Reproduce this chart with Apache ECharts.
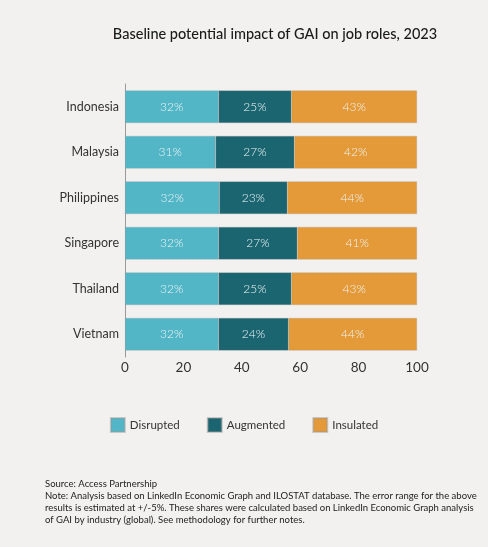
<!DOCTYPE HTML>
<html lang="en">
<head>
<meta charset="utf-8">
<title>Baseline potential impact of GAI on job roles, 2023</title>
<script src="https://cdn.jsdelivr.net/npm/echarts@6/dist/echarts.min.js"></script>
<style>
  html, body { margin: 0; padding: 0; background: #f2f1ef; }
  #chart { width: 488px; height: 547px; }
</style>
</head>
<body>
<div id="chart"></div>
<script>
// data (segment lengths; labels show them rounded)
const countries = ["Indonesia", "Malaysia", "Philippines", "Singapore", "Thailand", "Vietnam"];
const disrupted = [32, 31, 32.3, 32, 32, 32];
const augmented = [25, 27, 23.3, 27, 25, 24];
const insulated = [43, 42, 44.4, 41, 43, 44];
const xTicks = [0, 20, 40, 60, 80, 100];

const FONT = "Lato";
const notes = [
  "Source: Access Partnership",
  "Note: Analysis based on LinkedIn Economic Graph and ILOSTAT database. The error range for the above",
  "results is estimated at +/-5%. These shares were calculated based on LinkedIn Economic Graph analysis",
  "of GAI by industry (global). See methodology for further notes."
];

function barSeries(name, values, color) {
  return {
    name: name,
    type: 'bar',
    stack: 'total',
    barWidth: '72%',
    data: values,
    itemStyle: { color: color, borderColor: 'rgba(150,150,150,0.45)', borderWidth: 0.6 },
    label: {
      show: true,
      position: 'inside',
      formatter: function (p) { return Math.round(p.value) + '%'; },
      color: '#eef4f5',
      fontFamily: FONT,
      fontWeight: 300,
      fontSize: 12
    },
    emphasis: { disabled: true }
  };
}

var chart = echarts.init(document.getElementById('chart'));
chart.setOption({
  backgroundColor: '#f2f1ef',
  animation: false,
  title: {
    text: 'Baseline potential impact of GAI on job roles, 2023',
    left: 270,
    textAlign: 'center',
    top: 22,
    textStyle: { fontFamily: FONT, fontSize: 14.5, fontWeight: 500, color: '#1a1a1a' }
  },
  legend: {
    bottom: 109,
    left: 'center',
    itemWidth: 14,
    itemHeight: 14,
    itemGap: 27,
    icon: 'rect',
    textStyle: { fontFamily: FONT, fontSize: 11.5, color: '#333' },
    data: ['Disrupted', 'Augmented', 'Insulated']
  },
  grid: { left: 125, right: 71, top: 84, height: 273, containLabel: false },
  xAxis: {
    type: 'value',
    min: 0,
    max: 100,
    interval: 20,
    axisLine: { show: false },
    axisTick: { show: false },
    splitLine: { show: false },
    axisLabel: {
      margin: 4,
      fontFamily: FONT,
      fontSize: 13.5,
      color: '#333',
      formatter: function (v) { return xTicks.indexOf(v) >= 0 ? String(v) : ''; }
    }
  },
  yAxis: {
    type: 'category',
    inverse: true,
    data: countries,
    axisLine: { show: true, lineStyle: { color: '#9a9a9a', width: 1 } },
    axisTick: { show: false },
    axisLabel: { margin: 6, fontFamily: FONT, fontSize: 12.5, color: '#333' }
  },
  series: [
    barSeries('Disrupted', disrupted, '#52b6c7'),
    barSeries('Augmented', augmented, '#1b6570'),
    barSeries('Insulated', insulated, '#e49a38')
  ],
  graphic: notes.map(function (line, i) {
    return {
      type: 'text',
      left: 45,
      top: 479 + i * 12,
      style: { text: line, fontFamily: FONT, fontSize: 9.5, fill: '#222' }
    };
  })
});
</script>
</body>
</html>
